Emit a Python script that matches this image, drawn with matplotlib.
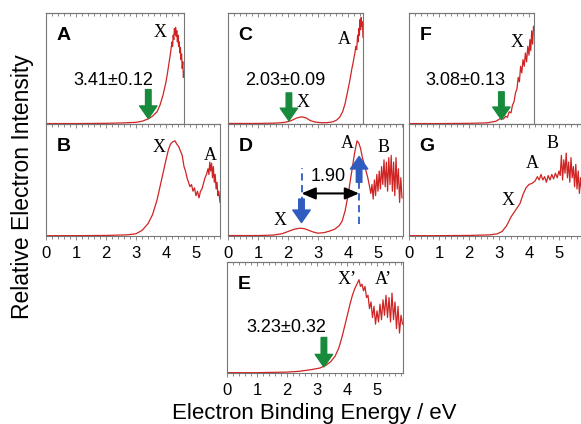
import matplotlib.pyplot as plt
from matplotlib.ticker import MultipleLocator

plt.rcParams['font.family'] = ['Liberation Sans', 'DejaVu Sans']

# energies (eV) and relative intensities
eA = [0.0, 1.0, 2.0, 2.6, 3.0, 3.2, 3.4, 3.55, 3.7, 3.8, 3.9, 4.0, 4.05, 4.1, 4.14, 4.17, 4.2, 4.22, 4.24, 4.26,
      4.28, 4.3, 4.32, 4.34, 4.36, 4.38, 4.4, 4.42, 4.44, 4.46, 4.48, 4.5, 4.52, 4.54, 4.56, 4.58, 4.6]
iA = [0.004, 0.004, 0.006, 0.01, 0.015, 0.025, 0.045, 0.07, 0.11, 0.17, 0.26, 0.38, 0.46, 0.55, 0.62, 0.68, 0.74, 0.70, 0.80, 0.76,
      0.86, 0.81, 0.87, 0.79, 0.84, 0.74, 0.80, 0.70, 0.74, 0.64, 0.69, 0.58, 0.63, 0.50, 0.56, 0.42, 0.47]

eB = [0.0, 1.0, 2.0, 2.7, 3.0, 3.2, 3.4, 3.55, 3.7, 3.8, 3.9, 4.0, 4.08, 4.15, 4.22, 4.3, 4.36, 4.42, 4.48, 4.54,
      4.6, 4.65, 4.7, 4.75, 4.8, 4.85, 4.9, 4.95, 5.0, 5.05, 5.1, 5.15, 5.2, 5.25, 5.3, 5.35, 5.4, 5.43, 5.46, 5.49,
      5.52, 5.55, 5.58, 5.61, 5.64, 5.67, 5.7, 5.73, 5.76, 5.8]
iB = [0.003, 0.003, 0.005, 0.01, 0.02, 0.05, 0.11, 0.19, 0.32, 0.44, 0.56, 0.68, 0.77, 0.82, 0.84, 0.85, 0.82, 0.80, 0.76, 0.72,
      0.62, 0.58, 0.52, 0.48, 0.44, 0.46, 0.40, 0.43, 0.36, 0.40, 0.34, 0.40, 0.42, 0.47, 0.52, 0.55, 0.60, 0.55, 0.66, 0.58,
      0.65, 0.52, 0.62, 0.48, 0.55, 0.42, 0.48, 0.36, 0.40, 0.30]

eC = [0.0, 1.0, 1.6, 1.9, 2.1, 2.3, 2.45, 2.6, 2.75, 2.9, 3.1, 3.3, 3.5, 3.62, 3.72, 3.82, 3.9, 3.97, 4.03, 4.08,
      4.13, 4.17, 4.2, 4.23, 4.26, 4.29, 4.32, 4.34, 4.36, 4.38, 4.4, 4.42, 4.44, 4.46, 4.48, 4.5]
iC = [0.005, 0.005, 0.008, 0.015, 0.03, 0.055, 0.065, 0.055, 0.03, 0.018, 0.012, 0.012, 0.02, 0.035, 0.06, 0.11, 0.18, 0.27, 0.35, 0.42,
      0.50, 0.55, 0.60, 0.64, 0.70, 0.67, 0.80, 0.74, 0.86, 0.80, 0.94, 0.85, 0.96, 0.88, 0.92, 0.78]

eD = [0.0, 1.0, 1.5, 1.8, 2.0, 2.2, 2.4, 2.55, 2.7, 2.85, 3.0, 3.2, 3.4, 3.55, 3.7, 3.8, 3.9, 4.0, 4.08, 4.15,
      4.22, 4.3, 4.36, 4.42, 4.48, 4.54, 4.6, 4.66, 4.72, 4.76, 4.8, 4.84, 4.88, 4.92, 4.96, 5.0, 5.04, 5.08, 5.12, 5.16,
      5.2, 5.24, 5.28, 5.32, 5.36, 5.4, 5.44, 5.48, 5.52, 5.56, 5.6, 5.64, 5.68, 5.72, 5.76, 5.8]
iD = [0.004, 0.004, 0.008, 0.02, 0.04, 0.06, 0.07, 0.065, 0.05, 0.035, 0.025, 0.03, 0.045, 0.06, 0.09, 0.13, 0.22, 0.36, 0.50, 0.62,
      0.74, 0.85, 0.83, 0.78, 0.70, 0.64, 0.58, 0.52, 0.44, 0.38, 0.46, 0.33, 0.50, 0.36, 0.55, 0.40, 0.58, 0.42, 0.62, 0.46,
      0.68, 0.44, 0.66, 0.40, 0.70, 0.46, 0.72, 0.40, 0.66, 0.36, 0.70, 0.42, 0.60, 0.30, 0.52, 0.34]

eE = [0.0, 1.0, 2.0, 2.4, 2.8, 3.1, 3.3, 3.45, 3.6, 3.72, 3.83, 3.93, 4.02, 4.1, 4.18, 4.26, 4.33, 4.4, 4.45, 4.5,
      4.55, 4.6, 4.65, 4.7, 4.75, 4.8, 4.85, 4.9, 4.95, 5.0, 5.05, 5.1, 5.15, 5.2, 5.25, 5.3, 5.35, 5.4, 5.45, 5.5,
      5.55, 5.6, 5.65, 5.7, 5.75, 5.8, 5.85]
iE = [0.003, 0.003, 0.008, 0.015, 0.03, 0.045, 0.07, 0.10, 0.15, 0.22, 0.32, 0.43, 0.53, 0.62, 0.70, 0.76, 0.80, 0.84, 0.78, 0.80,
      0.74, 0.78, 0.68, 0.70, 0.58, 0.64, 0.50, 0.60, 0.44, 0.56, 0.46, 0.62, 0.48, 0.66, 0.52, 0.70, 0.50, 0.68, 0.46, 0.72,
      0.48, 0.64, 0.40, 0.60, 0.36, 0.52, 0.44]

eF = [0.0, 1.0, 2.0, 2.6, 2.9, 3.05, 3.15, 3.22, 3.28, 3.34, 3.4, 3.45, 3.5, 3.55, 3.6, 3.64, 3.68, 3.72, 3.76, 3.8,
      3.84, 3.88, 3.92, 3.96, 4.0, 4.03, 4.06, 4.09, 4.12, 4.15]
iF = [0.004, 0.004, 0.006, 0.01, 0.025, 0.05, 0.045, 0.07, 0.06, 0.11, 0.10, 0.17, 0.20, 0.28, 0.32, 0.42, 0.38, 0.52, 0.46, 0.58,
      0.52, 0.64, 0.56, 0.70, 0.62, 0.76, 0.66, 0.84, 0.72, 0.88]

eG = [0.0, 1.0, 2.0, 2.7, 2.95, 3.1, 3.25, 3.4, 3.5, 3.6, 3.7, 3.8, 3.9, 4.0, 4.1, 4.2, 4.28, 4.34, 4.4, 4.46,
      4.52, 4.58, 4.64, 4.7, 4.76, 4.82, 4.88, 4.94, 5.0, 5.04, 5.08, 5.12, 5.16, 5.2, 5.24, 5.28, 5.32, 5.36, 5.4, 5.44,
      5.48, 5.52, 5.56, 5.6, 5.64, 5.68, 5.72, 5.76, 5.8]
iG = [0.003, 0.003, 0.005, 0.01, 0.02, 0.04, 0.09, 0.17, 0.21, 0.25, 0.29, 0.37, 0.43, 0.46, 0.47, 0.49, 0.53, 0.50, 0.55, 0.50,
      0.53, 0.48, 0.54, 0.50, 0.55, 0.51, 0.56, 0.52, 0.58, 0.54, 0.72, 0.50, 0.68, 0.56, 0.74, 0.52, 0.66, 0.48, 0.70, 0.52,
      0.62, 0.44, 0.64, 0.42, 0.58, 0.38, 0.52, 0.40, 0.48]

# onset energies marked with green arrows
onsets = {'A': (3.41, '3.41\u00b10.12'), 'C': (2.03, '2.03\u00b10.09'),
          'F': (3.08, '3.08\u00b10.13'), 'E': (3.23, '3.23\u00b10.32')}
# peak labels (text, energy, height)
peak_labels = {
    'A': [('X', 3.8, 0.82)],
    'B': [('X', 3.77, 0.79), ('A', 5.47, 0.72)],
    'C': [('X', 2.5, 0.19), ('A', 3.87, 0.76)],
    'D': [('X', 1.73, 0.14), ('A', 3.97, 0.83), ('B', 5.17, 0.79)],
    'F': [('X', 3.6, 0.73)],
    'G': [('X', 3.3, 0.32), ('A', 4.1, 0.65), ('B', 4.8, 0.83)],
    'E': [('X\u2019', 4.0, 0.84), ('A\u2019', 5.2, 0.84)],
}
# D panel: X and A peak positions and their splitting
d_x_peak = 2.45
d_a_peak = 4.37
d_split = '1.90'

W, H = 581, 424
# pixel boxes: left, top, right, bottom
boxes = {
    'A': (46, 13, 184, 124), 'B': (46, 124, 220, 236),
    'C': (228, 13, 363, 124), 'D': (228, 124, 403, 236),
    'F': (409, 13, 534, 124), 'G': (409, 124, 584, 236),
    'E': (227, 262, 403, 373),
}
curves = {'A': (eA, iA), 'B': (eB, iB), 'C': (eC, iC), 'D': (eD, iD),
          'E': (eE, iE), 'F': (eF, iF), 'G': (eG, iG)}

RED = '#cf2424'
GREEN = '#178a3c'
BLUE = '#2f5cbf'
SPINE = '#777777'
ARROW = 'simple,head_length=0.9,head_width=1.25,tail_width=0.4'

fig = plt.figure(figsize=(W / 100, H / 100), dpi=100)
axes = {}
for key, (l, t, r, b) in boxes.items():
    ax = fig.add_axes([l / W, 1 - b / H, (r - l) / W, (b - t) / H])
    e, inten = curves[key]
    ax.plot(e, inten, color=RED, lw=0.9)
    ax.set_xlim(0, (r - l) / 30.0)
    ax.set_ylim(0, 1)
    ax.set_yticks([])
    ax.xaxis.set_major_locator(MultipleLocator(1))
    ax.xaxis.set_minor_locator(MultipleLocator(0.2))
    ax.tick_params(axis='x', which='both', direction='out', colors=SPINE, width=0.6,
                   labelcolor='black', labelsize=12, pad=4.5)
    ax.tick_params(axis='x', which='major', length=3)
    ax.tick_params(axis='x', which='minor', length=2)
    if key in ('A', 'C', 'F'):
        ax.tick_params(axis='x', labelbottom=False)
    top = ax.secondary_xaxis('top')
    top.xaxis.set_major_locator(MultipleLocator(1))
    top.xaxis.set_minor_locator(MultipleLocator(0.2))
    top.tick_params(which='both', direction='in', colors=SPINE, width=0.6, labeltop=False)
    top.tick_params(which='major', length=3)
    top.tick_params(which='minor', length=2)
    top.spines['top'].set_color(SPINE)
    for sp in ax.spines.values():
        sp.set_color(SPINE)
        sp.set_linewidth(0.8)
    # panel letter
    ax.annotate(key, xy=(0, 1), xycoords='axes fraction', xytext=(7.5, -16.5),
                textcoords='offset points', ha='left', va='center',
                fontsize=14, fontweight='bold')
    for txt, x, y in peak_labels[key]:
        ax.text(x, y, txt, ha='center', va='center', fontsize=13, family='Liberation Serif')
    axes[key] = ax

# green onset arrows
arrow_y = {'A': (0.31, 0.05, 0.39), 'C': (0.28, 0.03, 0.39), 'F': (0.29, 0.04, 0.39), 'E': (0.32, 0.055, 0.41)}
text_x = {'A': 2.23, 'C': 1.9, 'F': 1.87, 'E': 1.97}
for key, (x0, label) in onsets.items():
    ax = axes[key]
    y_tail, y_tip, y_txt = arrow_y[key]
    ax.annotate('', xy=(x0, y_tip), xytext=(x0, y_tail),
                arrowprops=dict(arrowstyle=ARROW, color=GREEN, mutation_scale=10, shrinkA=0, shrinkB=0))
    ax.text(text_x[key], y_txt, label, ha='center', va='center', fontsize=13)

# panel D: peak spacing
ax = axes['D']
ax.plot([d_x_peak, d_x_peak], [0.29, 0.61], color=BLUE, lw=1.3, ls=(0, (4, 2.5)))
ax.plot([d_a_peak, d_a_peak], [0.11, 0.48], color=BLUE, lw=1.3, ls=(0, (4, 2.5)))
ax.annotate('', xy=(d_x_peak, 0.12), xytext=(d_x_peak, 0.33),
            arrowprops=dict(arrowstyle=ARROW, color=BLUE, mutation_scale=10, shrinkA=0, shrinkB=0))
ax.annotate('', xy=(d_a_peak, 0.71), xytext=(d_a_peak, 0.48),
            arrowprops=dict(arrowstyle=ARROW, color=BLUE, mutation_scale=10, shrinkA=0, shrinkB=0))
ax.annotate('', xy=(d_x_peak, 0.38), xytext=(d_a_peak, 0.38),
            arrowprops=dict(arrowstyle='<|-|>,head_length=0.7,head_width=0.3',
                            color='black', lw=1.5, mutation_scale=12, shrinkA=0, shrinkB=0))
ax.text(3.33, 0.53, d_split, ha='center', va='center', fontsize=13)

fig.text(23 / W, 1 - 187 / H, 'Relative Electron Intensity', rotation=90,
         ha='center', va='center', fontsize=16.5)
fig.text(314 / W, 1 - 413 / H, 'Electron Binding Energy / eV', ha='center', va='center', fontsize=16)

fig.savefig('out.png', dpi=100)
